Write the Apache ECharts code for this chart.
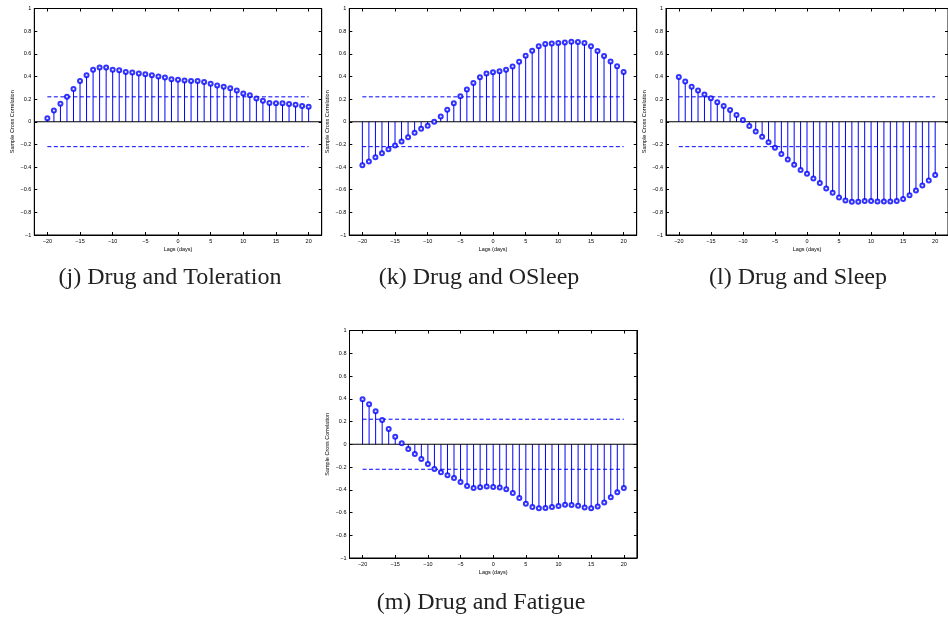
<!DOCTYPE html>
<html>
<head>
<meta charset="utf-8">
<script src="https://cdn.jsdelivr.net/npm/echarts@6/dist/echarts.min.js"></script>
<style>
  html, body { margin: 0; padding: 0; background: #fff; }
  #chart { width: 948px; height: 619px; }
</style>
</head>
<body>
<div id="chart"></div>
<script>
// Lags in days
const lags = [-20, -19, -18, -17, -16, -15, -14, -13, -12, -11, -10, -9, -8, -7, -6, -5, -4, -3, -2, -1,
              0, 1, 2, 3, 4, 5, 6, 7, 8, 9, 10, 11, 12, 13, 14, 15, 16, 17, 18, 19, 20];

// Sample cross correlation of drug intake with each variable
const toleration = [0.03, 0.10, 0.16, 0.22, 0.29, 0.36, 0.41, 0.46, 0.48, 0.48, 0.46, 0.455, 0.44, 0.435,
  0.425, 0.42, 0.41, 0.40, 0.39, 0.375, 0.37, 0.365, 0.36, 0.36, 0.35, 0.335, 0.32, 0.31, 0.295, 0.275,
  0.25, 0.235, 0.205, 0.185, 0.165, 0.163, 0.163, 0.157, 0.15, 0.14, 0.133];
const osleep = [-0.385, -0.352, -0.314, -0.278, -0.243, -0.21, -0.175, -0.136, -0.098, -0.062, -0.036,
  0.0, 0.047, 0.107, 0.163, 0.225, 0.284, 0.343, 0.393, 0.426, 0.438, 0.447, 0.459, 0.488, 0.53, 0.583,
  0.627, 0.666, 0.686, 0.692, 0.695, 0.70, 0.707, 0.704, 0.695, 0.666, 0.624, 0.58, 0.533, 0.491, 0.44];
const sleep = [0.396, 0.355, 0.31, 0.275, 0.24, 0.207, 0.172, 0.139, 0.104, 0.059, 0.015, -0.038, -0.086,
  -0.133, -0.18, -0.23, -0.284, -0.334, -0.38, -0.426, -0.46, -0.50, -0.54, -0.59, -0.627, -0.669,
  -0.695, -0.707, -0.707, -0.70, -0.70, -0.704, -0.704, -0.704, -0.70, -0.683, -0.65, -0.607, -0.562,
  -0.518, -0.47];
const fatigue = [0.396, 0.352, 0.29, 0.214, 0.135, 0.067, 0.009, -0.041, -0.085, -0.129, -0.173, -0.217,
  -0.246, -0.273, -0.296, -0.331, -0.367, -0.384, -0.378, -0.372, -0.375, -0.381, -0.396, -0.428,
  -0.472, -0.522, -0.551, -0.563, -0.56, -0.551, -0.543, -0.531, -0.534, -0.54, -0.557, -0.563,
  -0.548, -0.513, -0.466, -0.422, -0.384];

// Approximate 95% confidence bound
const confBound = 0.22;

// Tick positions
const xTicks = [-20, -15, -10, -5, 0, 5, 10, 15, 20];
const yTicks = [-1, -0.8, -0.6, -0.4, -0.2, 0, 0.2, 0.4, 0.6, 0.8, 1];

const captions = ['(j) Drug and Toleration', '(k) Drug and OSleep', '(l) Drug and Sleep', '(m) Drug and Fatigue'];
const panelValues = [toleration, osleep, sleep, fatigue];

// Panel layout (plot boxes) and caption anchors
const panels = [
  { left: 34.3, top: 8.5, width: 287.4, height: 226.5, cx: 170, cy: 278 },
  { left: 349.3, top: 8.5, width: 287.4, height: 226.5, cx: 479, cy: 278 },
  { left: 666.0, top: 8.5, width: 287.4, height: 226.5, cx: 798, cy: 278 },
  { left: 349.5, top: 330.5, width: 287.4, height: 227.5, cx: 481, cy: 603 }
];

const BLUE = '#0000ff';
const SANS = 'Liberation Sans, Arial, sans-serif';
const fmt = v => {
  const s = String(Math.round(v * 10) / 10);
  return s.charAt(0) === '-' ? '\u2212' + s.slice(1) : s;
};

const grid = [], xAxis = [], yAxis = [], series = [], graphic = [];

panels.forEach((p, i) => {
  grid.push({ left: p.left, top: p.top, width: p.width, height: p.height,
              show: true, borderColor: '#000', borderWidth: 1, backgroundColor: '#fff' });

  const tickStyle = { show: true, inside: true, length: 3, lineStyle: { color: '#000', width: 1 } };
  // bottom x axis with labels
  xAxis.push({
    gridIndex: i, type: 'value', position: 'bottom', min: -22, max: 22,
    axisLine: { show: true, onZero: false, lineStyle: { color: '#000', width: 1 } },
    axisTick: Object.assign({ customValues: xTicks }, tickStyle),
    axisLabel: { customValues: xTicks, formatter: fmt, fontSize: 5.5, color: '#000', fontFamily: SANS, margin: 3 },
    splitLine: { show: false },
    name: 'Lags (days)', nameLocation: 'middle', nameGap: 11,
    nameTextStyle: { fontSize: 5.5, color: '#000', fontFamily: SANS }
  });
  // top x axis: ticks only
  xAxis.push({
    gridIndex: i, type: 'value', position: 'top', min: -22, max: 22,
    axisLine: { show: true, onZero: false, lineStyle: { color: '#000', width: 1 } },
    axisTick: Object.assign({ customValues: xTicks }, tickStyle),
    axisLabel: { show: false }, splitLine: { show: false }
  });
  // left y axis with labels
  yAxis.push({
    gridIndex: i, type: 'value', position: 'left', min: -1, max: 1,
    axisLine: { show: true, onZero: false, lineStyle: { color: '#000', width: 1 } },
    axisTick: Object.assign({ customValues: yTicks }, tickStyle),
    axisLabel: { customValues: yTicks, formatter: fmt, fontSize: 5.5, color: '#000', fontFamily: SANS, margin: 3 },
    splitLine: { show: false },
    name: 'Sample Cross Correlation', nameLocation: 'middle', nameRotate: 90, nameGap: 19,
    nameTextStyle: { fontSize: 5.5, color: '#000', fontFamily: SANS }
  });
  // right y axis: ticks only
  yAxis.push({
    gridIndex: i, type: 'value', position: 'right', min: -1, max: 1,
    axisLine: { show: true, onZero: false, lineStyle: { color: '#000', width: 1 } },
    axisTick: Object.assign({ customValues: yTicks }, tickStyle),
    axisLabel: { show: false }, splitLine: { show: false }
  });

  const xi = 2 * i, yi = 2 * i;
  const pts = lags.map((l, k) => [l, panelValues[i][k]]);

  // stems from zero to each value
  series.push({
    type: 'custom', xAxisIndex: xi, yAxisIndex: yi, z: 2, silent: true,
    data: pts,
    renderItem: (params, api) => {
      const a = api.coord([api.value(0), 0]);
      const b = api.coord([api.value(0), api.value(1)]);
      return { type: 'line', shape: { x1: a[0], y1: a[1], x2: b[0], y2: b[1] },
               style: { stroke: BLUE, lineWidth: 1 } };
    }
  });
  // zero baseline
  series.push({
    type: 'line', xAxisIndex: xi, yAxisIndex: yi, z: 3, silent: true, symbol: 'none',
    data: [[-22, 0], [22, 0]], lineStyle: { color: '#000', width: 1.1 }
  });
  // confidence bounds
  [confBound, -confBound].forEach(b => {
    series.push({
      type: 'line', xAxisIndex: xi, yAxisIndex: yi, z: 1, silent: true, symbol: 'none',
      data: [[-20, b], [20, b]], lineStyle: { color: BLUE, width: 1, type: [4, 2.5] }
    });
  });
  // circle markers
  series.push({
    type: 'scatter', xAxisIndex: xi, yAxisIndex: yi, z: 4, silent: true,
    data: pts, symbol: 'emptyCircle', symbolSize: 4,
    itemStyle: { color: BLUE, borderColor: BLUE, borderWidth: 0.9 }
  });

  graphic.push({
    type: 'text', x: p.cx, y: p.cy, silent: true,
    style: { text: captions[i], font: '24px "Liberation Serif", "Times New Roman", serif',
             fill: '#222', textAlign: 'center', textVerticalAlign: 'middle' }
  });
});

const chart = echarts.init(document.getElementById('chart'), null, { renderer: 'canvas' });
chart.setOption({
  animation: false,
  backgroundColor: '#fff',
  grid, xAxis, yAxis, series, graphic
});
</script>
</body>
</html>
